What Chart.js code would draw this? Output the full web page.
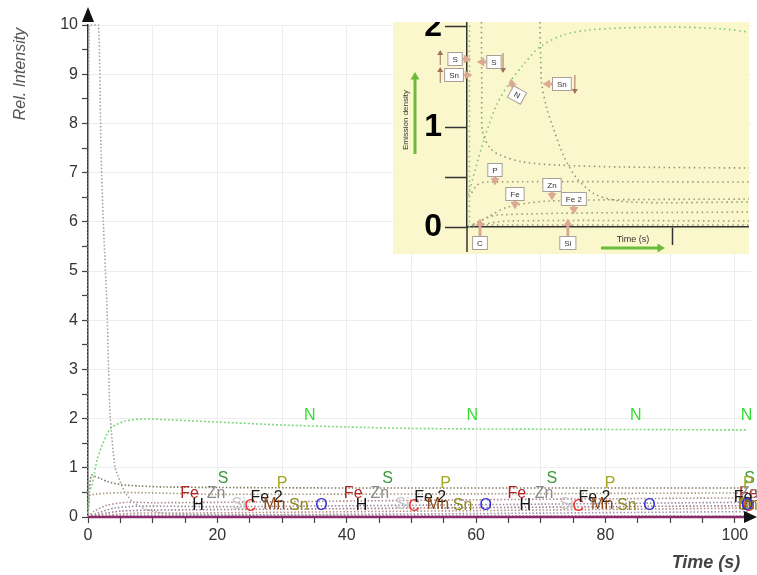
<!DOCTYPE html>
<html>
<head>
<meta charset="utf-8">
<script src="https://cdn.jsdelivr.net/npm/chart.js"></script>
<style>
  html, body { margin: 0; padding: 0; background: #fff; }
  #wrap { position: relative; width: 757px; height: 575px; }
  #main { position: absolute; left: 0; top: 0; }
  #inset { position: absolute; left: 393px; top: 22px; background: #fbf7cd; }
</style>
</head>
<body>
<div id="wrap">
  <canvas id="main" width="757" height="575"></canvas>
  <canvas id="inset" width="356" height="232"></canvas>
</div>
<script>
// ---------- Dades gràfic principal ----------
const xTicks = [0, 5, 10, 15, 20, 25, 30, 35, 40, 45, 50, 55, 60, 65, 70, 75, 80, 85, 90, 95, 100];
const yTicks = [0, 0.5, 1, 1.5, 2, 2.5, 3, 3.5, 4, 4.5, 5, 5.5, 6, 6.5, 7, 7.5, 8, 8.5, 9, 9.5, 10];

const pujadaX = [0, 0.2, 1.6, 2.0, 2.36, 2.9, 3.4, 4.2, 5.7, 7, 9, 12, 20, 50, 102];
const pujadaY = [0, 10, 10, 7.5, 6, 4.4, 2.1, 1, 0.5, 0.3, 0.15, 0.07, 0.04, 0.03, 0.02];

const nX = [0, 0.2, 0.6, 1.0, 1.4, 2, 3, 3.7, 5.7, 8, 10, 20, 30, 40, 50, 60, 80, 100, 102];
const nY = [0, 0.5, 0.65, 0.9, 1.16, 1.4, 1.7, 1.83, 1.95, 1.99, 1.99, 1.93, 1.87, 1.83, 1.8, 1.79, 1.78, 1.77, 1.77];

const sX = [0, 0.2, 0.5, 1, 2, 3, 5, 8, 12, 20, 40, 102];
const sY = [0, 0.5, 0.85, 0.83, 0.78, 0.72, 0.66, 0.63, 0.61, 0.6, 0.59, 0.59];

const pX = [0, 0.4, 20, 60, 102];
const pY = [0, 0.45, 0.46, 0.47, 0.49];

const feX = [0, 1, 3, 6, 10, 30, 60, 102];
const feY = [0, 0.12, 0.24, 0.3, 0.29, 0.31, 0.35, 0.39];

const znX = [0, 1.5, 4, 8, 20, 60, 102];
const znY = [0, 0.08, 0.18, 0.22, 0.21, 0.25, 0.3];

const fe2X = [0, 2, 5, 10, 30, 60, 102];
const fe2Y = [0, 0.06, 0.12, 0.14, 0.16, 0.19, 0.23];

const mnX = [0, 3, 8, 15, 60, 102];
const mnY = [0, 0.04, 0.08, 0.08, 0.13, 0.18];

const cX = [0, 5, 20, 60, 102];
const cY = [0, 0.03, 0.04, 0.07, 0.11];

const baseX = [0, 102];
const baseY = [0, 0];

// etiquetes dels elements
const etiquetes = ['Fe', 'H', 'Zn', 'S', 'Si', 'C', 'Fe 2', 'Mn', 'P', 'Sn', 'O', 'N'];
const colorsEtiq = ['#b22222', '#111111', '#8a8a8a', '#3c9a3c', '#c8c8c8', '#e8322d', '#1a1a1a', '#8b4a1a', '#a8a820', '#8d8a1c', '#2f2fd8', '#33dd33'];
const yEtiq = [0.48, 0.23, 0.47, 0.79, 0.26, 0.21, 0.40, 0.26, 0.67, 0.23, 0.24, 2.07];
const xEtiq = [
  [15.7, 41.0, 66.3, 102.1],
  [17.0, 42.3, 67.6, 101.9],
  [19.8, 45.1, 70.5, 102.2],
  [20.9, 46.3, 71.7, 102.3],
  [23.3, 48.6, 74.0, 102.0],
  [25.1, 50.4, 75.8, 102.1],
  [27.6, 52.9, 78.3, 102.3],
  [28.8, 54.1, 79.5, 102.2],
  [30.0, 55.3, 80.7, 102.1],
  [32.6, 57.9, 83.3, 102.0],
  [36.1, 61.5, 86.8, 101.9],
  [34.3, 59.4, 84.7, 101.8]
];

// ---------- Dades inset ----------
const insetXTicks = [10];
const insetYTicks = [0, 0.5, 1, 2];

const inNX = [0.06, 0.79, 1.44, 2.09, 2.73, 3.54, 4.68, 5.97, 7.59, 10, 12.45, 13.7];
const inNY = [0.32, 0.85, 1.22, 1.45, 1.62, 1.8, 1.92, 1.97, 1.99, 2.0, 1.98, 1.95];

const inSX = [0.7, 0.72, 0.76, 1.12, 1.6, 2.73, 4.35, 7.59, 13.7];
const inSY = [2.05, 1.4, 0.95, 0.79, 0.72, 0.65, 0.62, 0.6, 0.59];

const inSnX = [3.54, 3.58, 3.62, 3.87, 4.19, 4.68, 5.32, 6.3, 7.9, 13.7];
const inSnY = [2.05, 1.7, 1.45, 1.19, 0.99, 0.72, 0.49, 0.32, 0.25, 0.25];

const inVertX = [0.12, 0.12];
const inVertY = [0, 2.05];

const inPX = [0.1, 0.5, 0.9, 13.7];
const inPY = [0.3, 0.42, 0.45, 0.45];

const inFeX = [0.3, 1, 2, 4, 13.7];
const inFeY = [0.02, 0.1, 0.2, 0.26, 0.28];

const inL3X = [0.3, 1.5, 13.7];
const inL3Y = [0.03, 0.12, 0.15];

const inL4X = [0.3, 2, 13.7];
const inL4Y = [0.01, 0.06, 0.06];

const inL5X = [0, 13.7];
const inL5Y = [0.02, 0.02];

const notes = ['S', 'Sn', 'S', 'N', 'Sn', 'P', 'Fe', 'Zn', 'Fe 2', 'C', 'Si'];
const notesX = [-0.58, -0.63, 1.31, 2.43, 4.61, 1.36, 2.33, 4.13, 5.19, 0.63, 4.9];
const notesY = [1.68, 1.52, 1.65, 1.32, 1.43, 0.57, 0.33, 0.42, 0.28, -0.16, -0.16];
const notesDir = ['right', 'right', 'left', 'upleft', 'left', 'down', 'down', 'down', 'down', 'up', 'up'];

// fletxes fines (x, y inici, y final)
const fineX = [-1.3, -1.3, 1.75, 5.24];
const fineY1 = [1.62, 1.44, 1.74, 1.52];
const fineY2 = [1.77, 1.6, 1.54, 1.33];

const fontFam = '"Liberation Sans", Arial, sans-serif';

function punts(xs, ys) {
  return xs.map((x, i) => ({ x: x, y: ys[i] }));
}

function linia(xs, ys, color, extra) {
  return Object.assign({
    data: punts(xs, ys),
    borderColor: color,
    borderWidth: 1.6,
    borderDash: [1.5, 2],
    pointRadius: 0,
    tension: 0.25,
    fill: false,
    clip: false
  }, extra || {});
}

// ---------- Plugin principal ----------
const decoPrincipal = {
  id: 'decoPrincipal',
  afterDatasetsDraw(chart) {
    const { ctx, scales: { x, y } } = chart;
    ctx.save();
    ctx.font = '16px ' + fontFam;
    ctx.textAlign = 'center';
    ctx.textBaseline = 'middle';
    etiquetes.forEach((nom, i) => {
      ctx.fillStyle = colorsEtiq[i];
      xEtiq[i].forEach(xv => {
        ctx.fillText(nom, x.getPixelForValue(xv), y.getPixelForValue(yEtiq[i]));
      });
    });
    ctx.restore();
  },
  afterDraw(chart) {
    const { ctx, chartArea } = chart;
    ctx.save();
    ctx.fillStyle = '#111';
    // fletxa eix y
    ctx.beginPath();
    ctx.moveTo(chartArea.left, 7);
    ctx.lineTo(chartArea.left - 6, 22);
    ctx.lineTo(chartArea.left + 6, 22);
    ctx.closePath();
    ctx.fill();
    // fletxa eix x
    ctx.beginPath();
    ctx.moveTo(757, chartArea.bottom);
    ctx.lineTo(744, chartArea.bottom - 6);
    ctx.lineTo(744, chartArea.bottom + 6);
    ctx.closePath();
    ctx.fill();

    ctx.fillStyle = '#555';
    ctx.font = 'italic 16px ' + fontFam;
    ctx.textAlign = 'center';
    ctx.textBaseline = 'middle';
    ctx.translate(21, 74);
    ctx.rotate(-Math.PI / 2);
    ctx.fillText('Rel. Intensity', 0, 0);
    ctx.restore();

    ctx.save();
    ctx.fillStyle = '#444';
    ctx.font = 'italic bold 18px ' + fontFam;
    ctx.textAlign = 'center';
    ctx.textBaseline = 'middle';
    ctx.fillText('Time (s)', 706, 563);
    ctx.restore();
  }
};

new Chart(document.getElementById('main'), {
  type: 'line',
  data: {
    datasets: [
      linia(baseX, baseY, '#8a2a6a', { borderDash: [], borderWidth: 2.5 }),
      linia(pujadaX, pujadaY, '#a3a3a3', { tension: 0.15 }),
      linia(nX, nY, '#7ddc7d', { borderDash: [2, 2] }),
      linia(sX, sY, '#7d7d62'),
      linia(pX, pY, '#a89a80'),
      linia(feX, feY, '#b08a8a'),
      linia(znX, znY, '#9a8aa0'),
      linia(fe2X, fe2Y, '#a07a8a'),
      linia(mnX, mnY, '#b59080'),
      linia(cX, cY, '#a090b0')
    ]
  },
  options: {
    responsive: false,
    animation: false,
    layout: { padding: { top: 25, right: 6, left: 0, bottom: 0 } },
    plugins: { legend: { display: false }, tooltip: { enabled: false } },
    scales: {
      x: {
        type: 'linear',
        min: 0,
        max: 102.5,
        afterBuildTicks: s => { s.ticks = xTicks.map(v => ({ value: v })); },
        afterFit: s => { s.height = 58; },
        ticks: {
          autoSkip: false,
          maxRotation: 0,
          padding: 3,
          color: '#333',
          font: { size: 16, family: fontFam },
          callback: v => (v % 20 === 0 ? v : '')
        },
        grid: {
          color: c => (c.tick && c.tick.value % 10 === 0 && c.tick.value > 0) ? '#ededed' : 'rgba(0,0,0,0)',
          tickColor: '#444',
          tickLength: 6,
          tickWidth: 1.2
        },
        border: { color: '#333', width: 1.5 }
      },
      y: {
        min: 0,
        max: 10,
        afterBuildTicks: s => { s.ticks = yTicks.map(v => ({ value: v })); },
        afterFit: s => { s.width = 88; },
        ticks: {
          autoSkip: false,
          padding: 4,
          color: '#333',
          font: { size: 16, family: fontFam },
          callback: v => (Number.isInteger(v) ? v : '')
        },
        grid: {
          color: c => (c.tick && Number.isInteger(c.tick.value) && c.tick.value > 0) ? '#ededed' : 'rgba(0,0,0,0)',
          tickColor: '#444',
          tickLength: 6,
          tickWidth: 1.2
        },
        border: { color: '#333', width: 1.5 }
      }
    }
  },
  plugins: [decoPrincipal]
});

// ---------- Inset ----------
function fletxa(ctx, x1, y1, x2, y2, color, w) {
  const ang = Math.atan2(y2 - y1, x2 - x1);
  ctx.strokeStyle = color;
  ctx.fillStyle = color;
  ctx.lineWidth = w;
  ctx.beginPath();
  ctx.moveTo(x1, y1);
  ctx.lineTo(x2 - Math.cos(ang) * w * 1.5, y2 - Math.sin(ang) * w * 1.5);
  ctx.stroke();
  const h = Math.max(5, w * 2.5);
  ctx.beginPath();
  ctx.moveTo(x2, y2);
  ctx.lineTo(x2 - h * Math.cos(ang) + h * 0.6 * Math.sin(ang), y2 - h * Math.sin(ang) - h * 0.6 * Math.cos(ang));
  ctx.lineTo(x2 - h * Math.cos(ang) - h * 0.6 * Math.sin(ang), y2 - h * Math.sin(ang) + h * 0.6 * Math.cos(ang));
  ctx.closePath();
  ctx.fill();
}

const decoInset = {
  id: 'decoInset',
  afterDraw(chart) {
    const { ctx, chartArea, scales: { x, y } } = chart;
    ctx.save();
    // eix y per sota de zero
    ctx.strokeStyle = '#333';
    ctx.lineWidth = 1.5;
    ctx.beginPath();
    ctx.moveTo(chartArea.left, chartArea.bottom);
    ctx.lineTo(chartArea.left, 230);
    ctx.stroke();

    // títol vertical
    ctx.save();
    ctx.fillStyle = '#333';
    ctx.font = '8px ' + fontFam;
    ctx.textAlign = 'center';
    ctx.textBaseline = 'middle';
    ctx.translate(13, 98);
    ctx.rotate(-Math.PI / 2);
    ctx.fillText('Emission density', 0, 0);
    ctx.restore();
    fletxa(ctx, 22, 132, 22, 50, '#6dbb3a', 3);

    ctx.fillStyle = '#333';
    ctx.font = '9px ' + fontFam;
    ctx.textAlign = 'center';
    ctx.textBaseline = 'middle';
    ctx.fillText('Time (s)', 240, 218);
    fletxa(ctx, 208, 226, 272, 226, '#6dbb3a', 3);

    // fletxes fines
    fineX.forEach((fx, i) => {
      fletxa(ctx, x.getPixelForValue(fx), y.getPixelForValue(fineY1[i]),
        x.getPixelForValue(fx), y.getPixelForValue(fineY2[i]), '#a0705a', 1);
    });

    // caixes
    ctx.font = '8px ' + fontFam;
    notes.forEach((t, i) => {
      const px = x.getPixelForValue(notesX[i]);
      const py = y.getPixelForValue(notesY[i]);
      const w = ctx.measureText(t).width + 9;
      const h = 13;
      const dir = notesDir[i];
      ctx.save();
      ctx.translate(px, py);
      if (dir === 'upleft') ctx.rotate(0.5);
      if (dir === 'right') fletxa(ctx, w / 2, 0, w / 2 + 9, 0, '#dcaa94', 3);
      if (dir === 'left') fletxa(ctx, -w / 2, 0, -w / 2 - 10, 0, '#dcaa94', 3);
      if (dir === 'down') fletxa(ctx, 0, h / 2, 0, h / 2 + 9, '#dcaa94', 3);
      if (dir === 'up') fletxa(ctx, 0, -h / 2, 0, -h / 2 - 18, '#dcaa94', 3);
      if (dir === 'upleft') fletxa(ctx, -w / 2, -h / 2 + 2, -w / 2 - 6, -h / 2 - 5, '#dcaa94', 3);
      ctx.fillStyle = '#fff';
      ctx.strokeStyle = '#a8a098';
      ctx.lineWidth = 1;
      ctx.fillRect(-w / 2, -h / 2, w, h);
      ctx.strokeRect(-w / 2, -h / 2, w, h);
      ctx.fillStyle = '#333';
      ctx.textAlign = 'center';
      ctx.textBaseline = 'middle';
      ctx.fillText(t, 0, 0.5);
      ctx.restore();
    });
    ctx.restore();
  }
};

function liniaIn(xs, ys, color) {
  return {
    data: punts(xs, ys),
    borderColor: color,
    borderWidth: 1.6,
    borderDash: [1.5, 3.5],
    pointRadius: 0,
    tension: 0.3,
    fill: false,
    clip: false
  };
}

new Chart(document.getElementById('inset'), {
  type: 'line',
  data: {
    datasets: [
      liniaIn(inNX, inNY, '#7cc46c'),
      liniaIn(inSX, inSY, '#8f9a72'),
      liniaIn(inSnX, inSnY, '#8f9a72'),
      liniaIn(inVertX, inVertY, '#8cc87a'),
      liniaIn(inPX, inPY, '#9a9a7e'),
      liniaIn(inFeX, inFeY, '#9a9a7e'),
      liniaIn(inL3X, inL3Y, '#9a9a7e'),
      liniaIn(inL4X, inL4Y, '#9a9a7e'),
      liniaIn(inL5X, inL5Y, '#9a9a7e')
    ]
  },
  options: {
    responsive: false,
    animation: false,
    layout: { padding: 0 },
    plugins: { legend: { display: false }, tooltip: { enabled: false } },
    scales: {
      x: {
        type: 'linear',
        min: 0,
        max: 13.7,
        afterBuildTicks: s => { s.ticks = insetXTicks.map(v => ({ value: v })); },
        afterFit: s => { s.height = 27; s.paddingLeft = 0; s.paddingRight = 0; },
        ticks: { display: false },
        grid: { drawOnChartArea: false, tickLength: 18, tickColor: '#333', tickWidth: 1.5 },
        border: { color: '#333', width: 1.5 }
      },
      y: {
        min: 0,
        max: 2.05,
        afterBuildTicks: s => { s.ticks = insetYTicks.map(v => ({ value: v })); },
        afterFit: s => { s.width = 74; s.paddingTop = 0; s.paddingBottom = 0; },
        ticks: {
          autoSkip: false,
          padding: 3,
          color: '#000',
          font: { size: 32, weight: 'bold', family: fontFam },
          callback: v => (Number.isInteger(v) ? v : '')
        },
        grid: { drawOnChartArea: false, tickLength: 22, tickColor: '#333', tickWidth: 1.5 },
        border: { color: '#333', width: 1.5 }
      }
    }
  },
  plugins: [decoInset]
});
</script>
</body>
</html>
